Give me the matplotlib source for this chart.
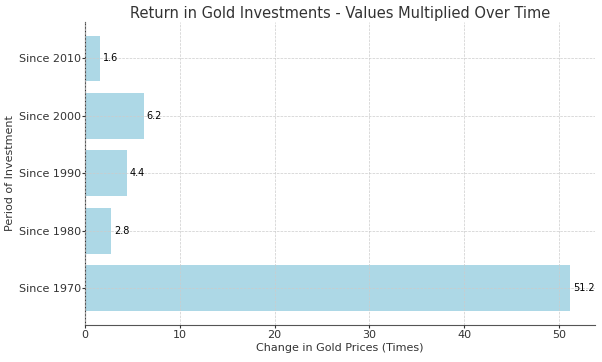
import matplotlib
matplotlib.use("Agg")
import matplotlib.pyplot as plt

periods = ["Since 1970", "Since 1980", "Since 1990", "Since 2000", "Since 2010"]
multipliers = [51.2, 2.8, 4.4, 6.2, 1.6]

plt.rcParams["text.color"] = "#333333"
plt.rcParams["axes.labelcolor"] = "#333333"
plt.rcParams["xtick.color"] = "#333333"
plt.rcParams["ytick.color"] = "#333333"

fig, ax = plt.subplots(figsize=(6.02, 3.62), dpi=100)
bars = ax.barh(periods, multipliers, color="lightblue")

for bar, val in zip(bars, multipliers):
    ax.text(bar.get_width() + 0.3, bar.get_y() + bar.get_height() / 2, f"{val}",
            va="center", ha="left", fontsize=7, color="black")

ax.set_title("Return in Gold Investments - Values Multiplied Over Time", fontsize=10.5, pad=2.5)
ax.set_xlabel("Change in Gold Prices (Times)", fontsize=8, labelpad=2.5)
ax.set_ylabel("Period of Investment", fontsize=8, labelpad=3)
ax.tick_params(axis="y", labelsize=8, length=2, pad=0.5)
ax.tick_params(axis="x", labelsize=8, length=2, pad=1.5)
ax.grid(True, linestyle="--", linewidth=0.5, color="#cccccc")
ax.set_axisbelow(False)
for s in ["top", "right"]:
    ax.spines[s].set_visible(False)
ax.spines["left"].set_color("#333333")
ax.spines["bottom"].set_color("#555555")

fig.subplots_adjust(left=0.141, right=0.988, top=0.94, bottom=0.102)
fig.savefig("out.png", dpi=100)
